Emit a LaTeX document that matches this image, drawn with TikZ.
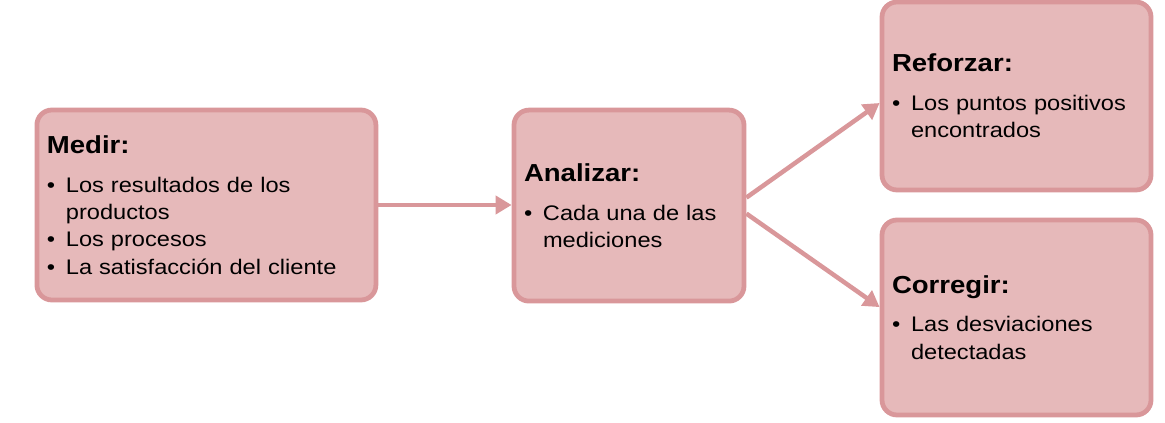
\documentclass[tikz,border=0pt]{standalone}
\usepackage{fontspec}
\setmainfont{Liberation Sans}[FakeStretch=1.12]
\usepackage{xcolor}
\usetikzlibrary{
    positioning,
    arrows.meta
}
\definecolor{boxfill}{HTML}{E6B9BA}
\definecolor{boxline}{HTML}{D9979A}
\newcommand{\bul}{\makebox[0.475cm][l]{\textbullet}}
\newcommand{\cont}{\hspace*{0.475cm}}
\newcommand{\stagetitle}[1]{{\fontsize{17.5}{19.5}\selectfont\bfseries #1}\\[8pt]}

\begin{document}
\begin{tikzpicture}[
      stage/.style={rectangle, draw=boxline, fill=boxfill, line width=3.4pt,
          rounded corners=0.375cm, align=left, inner xsep=0.25cm,
          font=\fontsize{15}{19.5}\selectfont},
      arrow/.style={-{Triangle[length=0.4cm, width=0.45cm]}, draw=boxline,
          line width=3.2pt}
    ]
    \useasboundingbox (0,0) rectangle (29.125,-10.575);

    \node[stage, text width=7.975cm, minimum height=4.75cm] (medir) at (5.16,-5.125)
      {\stagetitle{Medir:}
       \bul Los resultados de los\\
       \cont productos\\
       \bul Los procesos\\
       \bul La satisfacción del cliente};

    \node[stage, text width=5.25cm, minimum height=4.775cm] (analizar) at (15.725,-5.14)
      {\stagetitle{Analizar:}
       \bul Cada una de las\\
       \cont mediciones};

    \node[stage, text width=6.225cm, minimum height=4.7cm] (reforzar) at (25.4125,-2.4)
      {\stagetitle{Reforzar:}
       \bul Los puntos positivos\\
       \cont encontrados};

    \node[stage, text width=6.225cm, minimum height=4.875cm] (corregir) at (25.4125,-7.9375)
      {\stagetitle{Corregir:}
       \bul Las desviaciones\\
       \cont detectadas};

    \draw[arrow] (medir.east) -- (medir.east -| analizar.west);
    \draw[arrow] ([yshift=0.2cm]analizar.east) -- ([yshift=-0.175cm]reforzar.west);
    \draw[arrow] ([yshift=-0.2cm]analizar.east) -- ([yshift=0.26cm]corregir.west);
  \end{tikzpicture}
\end{document}
